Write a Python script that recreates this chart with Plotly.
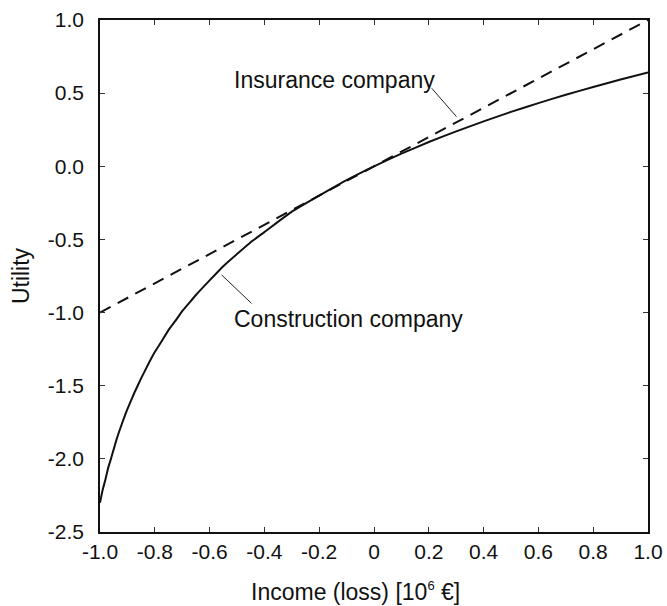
import plotly.graph_objects as go

# Construction company utility curve
income = [-1.0, -0.99, -0.98, -0.97, -0.96, -0.94, -0.92, -0.90, -0.875, -0.85, -0.825, -0.80,
          -0.775, -0.75, -0.725, -0.70, -0.675, -0.65, -0.60, -0.55, -0.50, -0.45, -0.40,
          -0.30, -0.20, -0.10, 0.0, 0.1, 0.2, 0.3, 0.4, 0.5, 0.6, 0.7, 0.8, 0.9, 1.0]
utility_construction = [-2.30, -2.21, -2.14, -2.06, -2.00, -1.87, -1.76, -1.66, -1.55, -1.45,
                        -1.357, -1.27, -1.196, -1.12, -1.057, -0.99, -0.935, -0.88, -0.78,
                        -0.683, -0.60, -0.519, -0.45, -0.31, -0.20, -0.094, 0.0, 0.086,
                        0.166, 0.239, 0.307, 0.372, 0.432, 0.489, 0.542, 0.593, 0.642]
# Insurance company (linear, dashed)
income_ins = [-1.0, 1.0]
utility_insurance = [-1.0, 1.0]

x_tickvals = [-1.0, -0.8, -0.6, -0.4, -0.2, 0.0, 0.2, 0.4, 0.6, 0.8, 1.0]
x_ticktext = ["-1.0", "-0.8", "-0.6", "-0.4", "-0.2", "0", "0.2", "0.4", "0.6", "0.8", "1.0"]
y_tickvals = [-2.5, -2.0, -1.5, -1.0, -0.5, 0.0, 0.5, 1.0]
y_ticktext = ["-2.5", "-2.0", "-1.5", "-1.0", "-0.5", "0.0", "0.5", "1.0"]

FONT = "Liberation Sans, Arial, Helvetica, sans-serif"

fig = go.Figure()
fig.add_trace(go.Scatter(x=income_ins, y=utility_insurance, mode="lines",
                         line=dict(color="#111", width=2, dash="12px,8px"),
                         showlegend=False, hoverinfo="skip"))
fig.add_trace(go.Scatter(x=income, y=utility_construction, mode="lines",
                         line=dict(color="#111", width=2, shape="spline", smoothing=0.4),
                         showlegend=False, hoverinfo="skip"))

# pointer lines
fig.add_shape(type="line", x0=0.211, y0=0.533, x1=0.301, y1=0.339,
              line=dict(color="#222", width=1))
fig.add_shape(type="line", x0=-0.556, y0=-0.743, x1=-0.447, y1=-0.937,
              line=dict(color="#222", width=1))

fig.add_annotation(x=-0.52, y=0.59, text="Insurance company", showarrow=False,
                   xanchor="left", yanchor="middle", font=dict(size=23, color="#111", family=FONT))
fig.add_annotation(x=-0.52, y=-1.044, text="Construction company", showarrow=False,
                   xanchor="left", yanchor="middle", font=dict(size=23, color="#111", family=FONT))

# x axis title (placed as annotation to match its slight left offset)
fig.add_annotation(xref="paper", yref="paper", x=0.467, y=-0.117,
                   text="Income (loss) [10<sup><span style='font-size:13px'>6</span></sup> €]",
                   showarrow=False, xanchor="center", yanchor="middle",
                   font=dict(size=23, color="#111", family=FONT))

axis_common = dict(showline=True, linecolor="#111", linewidth=1.5, mirror="allticks",
                   ticks="inside", ticklen=5, tickwidth=1, tickcolor="#333",
                   showgrid=False, zeroline=False, automargin=False,
                   tickfont=dict(size=21, color="#111", family=FONT))

fig.update_xaxes(range=[-1.0, 1.0], tickvals=x_tickvals, ticktext=x_ticktext,
                 **axis_common)
fig.update_yaxes(range=[-2.5, 1.0], tickvals=y_tickvals, ticktext=y_ticktext,
                 ticklabelstandoff=10,
                 title=dict(text="Utility", font=dict(size=23, color="#111", family=FONT),
                            standoff=12),
                 **axis_common)

fig.update_layout(width=667, height=606, margin=dict(l=100, r=19, t=20, b=74),
                  plot_bgcolor="white", paper_bgcolor="white",
                  font=dict(family=FONT, color="#111"))

fig.write_html("out.html")
